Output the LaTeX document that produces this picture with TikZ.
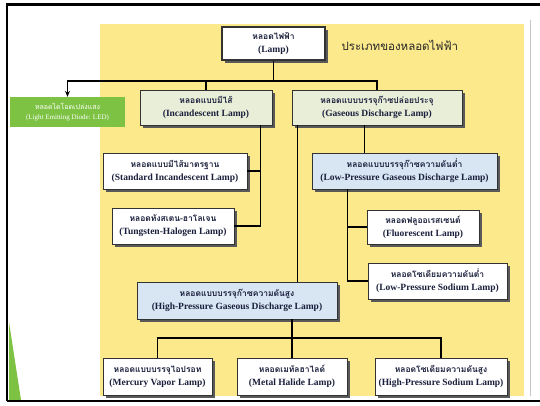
\documentclass[tikz,border=0pt]{standalone}
\usepackage{fontspec}
\setmainfont{Liberation Serif}
\newfontfamily\thai[Script=Thai]{Loma}
\usetikzlibrary{shadows,arrows.meta,calc}
\definecolor{bgyellow}{HTML}{FCE98C}
\definecolor{boxgreen}{HTML}{E9EED9}
\definecolor{boxblue}{HTML}{D8E6F4}
\definecolor{ledgreen}{HTML}{7DC242}
\definecolor{txt}{HTML}{1A1F3C}
\newcommand{\thline}[1]{{\thai\fontsize{8.5}{13}\selectfont #1}}
\begin{document}
\begin{tikzpicture}[x=1pt,y=-1pt,
  box/.style={draw=black!80, line width=0.6pt, fill=white, align=center, inner sep=1pt,
    font=\fontsize{9.5}{13}\selectfont\bfseries, text=txt,
    drop shadow={shadow xshift=3pt, shadow yshift=-3pt, fill=black!65, opacity=1}},
  gbox/.style={box, fill=boxgreen},
  bbox/.style={box, fill=boxblue},
  conn/.style={line width=1.5pt, black}]
\useasboundingbox (0,0) rectangle (540,405);
\fill[white] (0,0) rectangle (540,405);
\fill[bgyellow] (100,24) rectangle (524,396);
\draw[gray!45, line width=1pt] (530,20) -- (530,396);
\fill[ledgreen] (9,322) -- (21,400) -- (9,400) -- cycle;
\draw[line width=2.5pt] (7,401) -- (7,4.5) -- (540,4.5);
\draw[line width=2.5pt] (7,401) -- (540,401);

\node[box, line width=1.4pt, minimum width=103pt, minimum height=33pt] (lamp) at (273.5,43.5) {\thline{หลอดไฟฟ้า}\\(Lamp)};
\node[font=\thai\fontsize{11.5}{13}\selectfont, text=black!85, anchor=west] (title) at (338,45) {ประเภทของหลอดไฟฟ้า};

\node[fill=ledgreen, text=white, align=center, minimum width=115pt, minimum height=30pt, inner sep=1pt,
  font=\fontsize{7}{10}\selectfont] (led) at (67.5,112) {{\thai หลอดไดโอดเปล่งแสง}\\(Light Emitting Diode: LED)};

\node[gbox, minimum width=132pt, minimum height=35pt] (inc) at (206,107.5) {\thline{หลอดแบบมีไส้}\\(Incandescent Lamp)};
\node[gbox, minimum width=170pt, minimum height=35pt] (gas) at (377,107.5) {\thline{หลอดแบบบรรจุก๊าซปล่อยประจุ}\\(Gaseous Discharge Lamp)};

\node[box, minimum width=144pt, minimum height=36pt] (std) at (175,171) {\thline{หลอดแบบมีไส้มาตรฐาน}\\(Standard Incandescent Lamp)};
\node[box, minimum width=122pt, minimum height=36pt] (tung) at (173,226) {\thline{หลอดทังสเตน-ฮาโลเจน}\\(Tungsten-Halogen Lamp)};

\node[bbox, minimum width=185pt, minimum height=36pt] (lp) at (404.5,171) {\thline{หลอดแบบบรรจุก๊าซความดันต่ำ}\\(Low-Pressure Gaseous Discharge Lamp)};
\node[box, minimum width=112pt, minimum height=34pt] (fl) at (423,227) {\thline{หลอดฟลูออเรสเซนต์}\\(Fluorescent Lamp)};
\node[box, minimum width=139pt, minimum height=36pt] (lps) at (437.5,281) {\thline{หลอดโซเดียมความดันต่ำ}\\(Low-Pressure Sodium Lamp)};

\node[bbox, minimum width=200pt, minimum height=37pt] (hp) at (237,300.5) {\thline{หลอดแบบบรรจุก๊าซความดันสูง}\\(High-Pressure Gaseous Discharge Lamp)};

\node[box, minimum width=109pt, minimum height=37pt] (merc) at (157.5,376.5) {\thline{หลอดแบบบรรจุไอปรอท}\\(Mercury Vapor Lamp)};
\node[box, minimum width=110pt, minimum height=37pt] (mh) at (292,376.5) {\thline{หลอดเมทัลฮาไลด์}\\(Metal Halide Lamp)};
\node[box, minimum width=132pt, minimum height=37pt] (hps) at (441,376.5) {\thline{หลอดโซเดียมความดันสูง}\\(High-Pressure Sodium Lamp)};

% connectors
\coordinate (bus) at (0,81);
\draw[conn] (lamp.south) -- (lamp.south |- bus);
\draw[conn] (inc.north) |- (gas.north |- bus) -- (gas.north);
\draw[conn, -{Stealth[length=6pt,width=5pt]}] (inc.north |- bus) -| (led.north);

\coordinate (ix) at ($(inc.south east)+(-12,0)$);
\draw[conn] (ix) |- (tung.east);
\draw[conn] (ix |- std.east) -- (std.east);

\coordinate (gx1) at ($(gas.south west)+(6,0)$);
\draw[conn] (gx1) -- (gx1 |- hp.north);
\coordinate (gx2) at ($(gas.south west)+(73,0)$);
\draw[conn] (gx2) -- (gx2 |- lp.north);

\coordinate (lx) at ($(lp.south west)+(36,0)$);
\draw[conn] (lx) |- (lps.west);
\draw[conn] (lx |- fl.west) -- (fl.west);

\coordinate (bus2) at (0,338);
\draw[conn] (mh.north |- hp.south) -- (mh.north);
\draw[conn] (merc.north) |- (mh.north |- bus2) -| (hps.north);
\end{tikzpicture}
\end{document}
